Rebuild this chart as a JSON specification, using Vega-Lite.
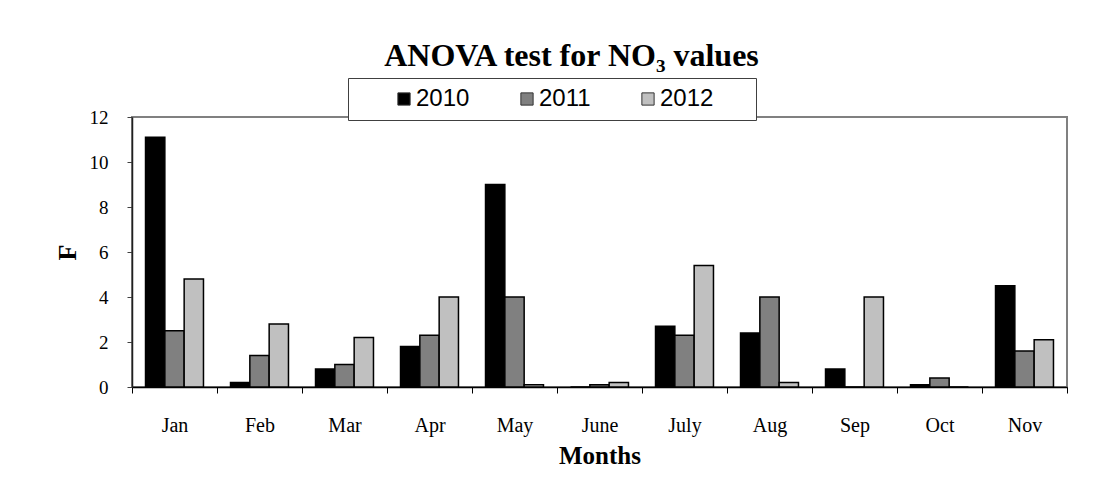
{
  "$schema": "https://vega.github.io/schema/vega-lite/v6.json",
  "width": 935,
  "height": 270,
  "autosize": {"type": "none"},
  "padding": {"left": 132, "top": 117, "right": 37, "bottom": 114},
  "background": "white",
  "title": {
    "text": "ANOVA test for NO₃ values",
    "font": "Liberation Serif",
    "fontSize": 32,
    "fontWeight": "bold",
    "color": "black",
    "anchor": "middle",
    "frame": "group",
    "dx": -28,
    "dy": 32,
    "baseline": "alphabetic",
    "offset": 12
  },
  "data": {
    "values": [
      {"month": "Jan", "year": "2010", "F": 11.1},
      {"month": "Jan", "year": "2011", "F": 2.5},
      {"month": "Jan", "year": "2012", "F": 4.8},
      {"month": "Feb", "year": "2010", "F": 0.2},
      {"month": "Feb", "year": "2011", "F": 1.4},
      {"month": "Feb", "year": "2012", "F": 2.8},
      {"month": "Mar", "year": "2010", "F": 0.8},
      {"month": "Mar", "year": "2011", "F": 1.0},
      {"month": "Mar", "year": "2012", "F": 2.2},
      {"month": "Apr", "year": "2010", "F": 1.8},
      {"month": "Apr", "year": "2011", "F": 2.3},
      {"month": "Apr", "year": "2012", "F": 4.0},
      {"month": "May", "year": "2010", "F": 9.0},
      {"month": "May", "year": "2011", "F": 4.0},
      {"month": "May", "year": "2012", "F": 0.1},
      {"month": "June", "year": "2010", "F": 0},
      {"month": "June", "year": "2011", "F": 0.1},
      {"month": "June", "year": "2012", "F": 0.2},
      {"month": "July", "year": "2010", "F": 2.7},
      {"month": "July", "year": "2011", "F": 2.3},
      {"month": "July", "year": "2012", "F": 5.4},
      {"month": "Aug", "year": "2010", "F": 2.4},
      {"month": "Aug", "year": "2011", "F": 4.0},
      {"month": "Aug", "year": "2012", "F": 0.2},
      {"month": "Sep", "year": "2010", "F": 0.8},
      {"month": "Sep", "year": "2011", "F": 0},
      {"month": "Sep", "year": "2012", "F": 4.0},
      {"month": "Oct", "year": "2010", "F": 0.1},
      {"month": "Oct", "year": "2011", "F": 0.4},
      {"month": "Oct", "year": "2012", "F": 0},
      {"month": "Nov", "year": "2010", "F": 4.5},
      {"month": "Nov", "year": "2011", "F": 1.6},
      {"month": "Nov", "year": "2012", "F": 2.1}
    ]
  },
  "mark": {"type": "bar", "stroke": "black", "strokeWidth": 1.5},
  "encoding": {
    "x": {
      "field": "month",
      "type": "nominal",
      "sort": ["Jan", "Feb", "Mar", "Apr", "May", "June", "July", "Aug", "Sep", "Oct", "Nov"],
      "scale": {"paddingInner": 0, "paddingOuter": 0},
      "title": "Months",
      "axis": {
        "labelAngle": 0,
        "tickBand": "extent",
        "tickSize": 6,
        "tickColor": "black",
        "domainColor": "black",
        "domainWidth": 1.5,
        "labelFont": "Liberation Serif",
        "labelFontSize": 20,
        "labelColor": "black",
        "labelBaseline": "alphabetic",
        "labelPadding": 38,
        "titleFont": "Liberation Serif",
        "titleFontSize": 25,
        "titleFontWeight": "bold",
        "titleColor": "black",
        "titleBaseline": "alphabetic",
        "titleY": 76,
        "grid": false
      }
    },
    "xOffset": {
      "field": "year",
      "type": "nominal",
      "scale": {"paddingInner": 0, "paddingOuter": 0.7}
    },
    "y": {
      "field": "F",
      "type": "quantitative",
      "scale": {"domain": [0, 12], "nice": false},
      "title": "F",
      "axis": {
        "values": [0, 2, 4, 6, 8, 10, 12],
        "tickSize": 5,
        "tickColor": "#404040",
        "domainColor": "#202020",
        "domainWidth": 1.5,
        "labelFont": "Liberation Serif",
        "labelFontSize": 19,
        "labelColor": "black",
        "labelPadding": 19,
        "grid": false,
        "titleFont": "Liberation Serif",
        "titleFontSize": 26,
        "titleFontWeight": "bold",
        "titleColor": "black",
        "titleBaseline": "alphabetic",
        "titleAngle": -90,
        "titleX": -57,
        "titleY": 135
      }
    },
    "color": {
      "field": "year",
      "type": "nominal",
      "scale": {"domain": ["2010", "2011", "2012"], "range": ["#000000", "#808080", "#c0c0c0"]},
      "legend": {
        "orient": "none",
        "legendX": 216,
        "legendY": -39,
        "direction": "horizontal",
        "title": null,
        "fillColor": "white",
        "strokeColor": "#404040",
        "padding": 9,
        "symbolType": "square",
        "symbolSize": 150,
        "symbolOffset": 35,
        "symbolStrokeColor": "#333333",
        "symbolStrokeWidth": 1,
        "symbolOpacity": 1,
        "labelFont": "Liberation Sans",
        "labelFontSize": 24,
        "labelColor": "black",
        "labelOffset": 0,
        "columnPadding": 10,
        "labelExpr": "datum.label == '2012' ? datum.label + '\u00a0\u00a0\u00a0\u00a0\u00a0\u200b' : datum.label"
      }
    }
  },
  "config": {
    "view": {"stroke": "#808080", "strokeWidth": 2}
  }
}
